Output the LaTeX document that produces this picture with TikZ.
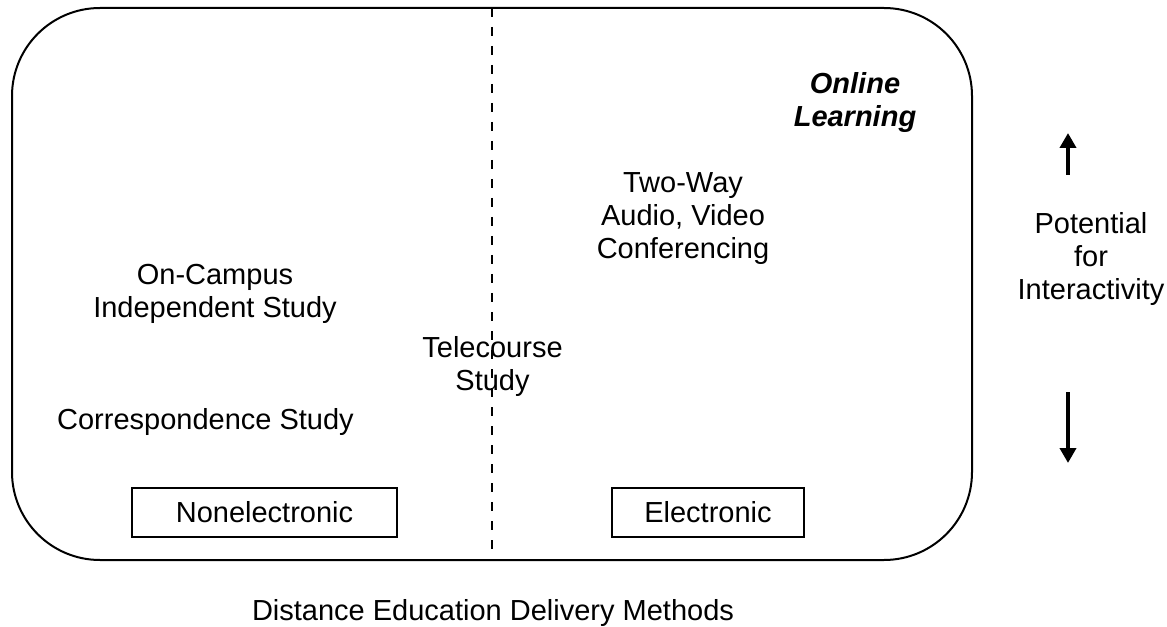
\documentclass[tikz,border=0pt]{standalone}
\usepackage{fontspec}
\setmainfont{Liberation Sans}
\usetikzlibrary{arrows.meta}
\newcommand\lbsize{\fontsize{21.75pt}{24.75pt}\selectfont}
\tikzset{
  lbl/.style={font=\lbsize, align=center, inner sep=0pt, anchor=north},
  catbox/.style={draw, line width=0.9pt, font=\lbsize, inner sep=0pt, minimum height=36.75pt},
  frame/.style={line width=1.5pt, rounded corners=66pt},
  divider/.style={line width=1.8pt, dash pattern=on 6.75pt off 7.5pt},
  arr/.style={line width=3pt, -{Triangle[length=11.25pt,width=12pt]}}
}
\begin{document}
\begin{tikzpicture}[x=0.75pt,y=-0.75pt]
\useasboundingbox (0,0) rectangle (1167,627);
% frame
\draw[frame] (12,8) rectangle (972,560);
% texts
\node[lbl, font=\lbsize\bfseries\itshape] (online) at (855,69.9) {\strut Online\\\strut Learning};
\node[lbl] (twoway) at (683,168.9) {\strut Two-Way\\\strut Audio, Video\\\strut Conferencing};
\node[lbl] (campus) at (215,260.9) {\strut On-Campus\\\strut Independent Study};
\node[lbl] (tele) at (492.5,333.9) {\strut Telecourse\\\strut Study};
\node[lbl] (corr) at (205.5,405.9) {\strut Correspondence Study};
\node[lbl] (pot) at (1091,209.9) {\strut Potential\\\strut for\\\strut Interactivity};
\node[lbl] (title) at (493,596.9) {\strut Distance Education Delivery Methods};
% category boxes
\node[catbox, minimum width=198.75pt] (nonel) at (264.5,512.5) {Nonelectronic};
\node[catbox, minimum width=144pt] (elec) at (708,512.5) {Electronic};
% divider
\coordinate (dtop) at (492,8);
\coordinate (dbot) at (492,560);
\draw[divider] (dtop) -- (dbot);
% arrows
\coordinate (upS) at (1068,175);
\coordinate (upE) at (1068,133);
\coordinate (dnS) at (1068,392);
\coordinate (dnE) at (1068,463);
\draw[arr] (upS) -- (upE);
\draw[arr] (dnS) -- (dnE);
\end{tikzpicture}
\end{document}
